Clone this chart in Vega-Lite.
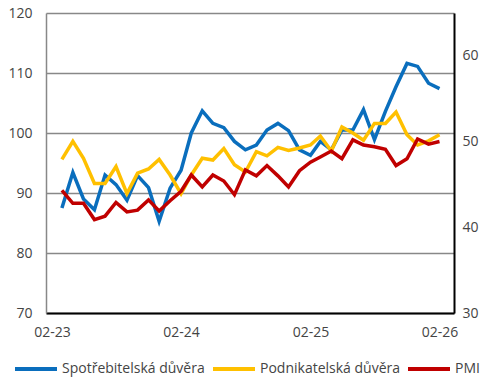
{
  "$schema": "https://vega.github.io/schema/vega-lite/v6.json",
  "width": 408,
  "height": 300,
  "autosize": {"type": "none"},
  "padding": {"left": 46, "top": 13, "right": 43, "bottom": 74},
  "background": "white",
  "config": {
    "view": {"stroke": null},
    "font": "Open Sans",
    "axis": {"labelFont": "Open Sans", "labelFontSize": 14, "labelColor": "#444444", "ticks": false, "title": null},
    "legend": {"labelFont": "Open Sans"}
  },
  "data": {"values": [
    {"date": "2023-03-01", "series": "Spotřebitelská důvěra", "value": 87.5},
    {"date": "2023-04-01", "series": "Spotřebitelská důvěra", "value": 93.4},
    {"date": "2023-05-01", "series": "Spotřebitelská důvěra", "value": 89.0},
    {"date": "2023-06-01", "series": "Spotřebitelská důvěra", "value": 87.2},
    {"date": "2023-07-01", "series": "Spotřebitelská důvěra", "value": 93.0},
    {"date": "2023-08-01", "series": "Spotřebitelská důvěra", "value": 91.4},
    {"date": "2023-09-01", "series": "Spotřebitelská důvěra", "value": 88.8},
    {"date": "2023-10-01", "series": "Spotřebitelská důvěra", "value": 92.9},
    {"date": "2023-11-01", "series": "Spotřebitelská důvěra", "value": 90.9},
    {"date": "2023-12-01", "series": "Spotřebitelská důvěra", "value": 85.3},
    {"date": "2024-01-01", "series": "Spotřebitelská důvěra", "value": 90.8},
    {"date": "2024-02-01", "series": "Spotřebitelská důvěra", "value": 93.8},
    {"date": "2024-03-01", "series": "Spotřebitelská důvěra", "value": 100.0},
    {"date": "2024-04-01", "series": "Spotřebitelská důvěra", "value": 103.7},
    {"date": "2024-05-01", "series": "Spotřebitelská důvěra", "value": 101.6},
    {"date": "2024-06-01", "series": "Spotřebitelská důvěra", "value": 100.9},
    {"date": "2024-07-01", "series": "Spotřebitelská důvěra", "value": 98.6},
    {"date": "2024-08-01", "series": "Spotřebitelská důvěra", "value": 97.2},
    {"date": "2024-09-01", "series": "Spotřebitelská důvěra", "value": 98.0},
    {"date": "2024-10-01", "series": "Spotřebitelská důvěra", "value": 100.5},
    {"date": "2024-11-01", "series": "Spotřebitelská důvěra", "value": 101.6},
    {"date": "2024-12-01", "series": "Spotřebitelská důvěra", "value": 100.4},
    {"date": "2025-01-01", "series": "Spotřebitelská důvěra", "value": 97.2},
    {"date": "2025-02-01", "series": "Spotřebitelská důvěra", "value": 96.3},
    {"date": "2025-03-01", "series": "Spotřebitelská důvěra", "value": 98.6},
    {"date": "2025-04-01", "series": "Spotřebitelská důvěra", "value": 97.2},
    {"date": "2025-05-01", "series": "Spotřebitelská důvěra", "value": 100.5},
    {"date": "2025-06-01", "series": "Spotřebitelská důvěra", "value": 100.5},
    {"date": "2025-07-01", "series": "Spotřebitelská důvěra", "value": 103.9},
    {"date": "2025-08-01", "series": "Spotřebitelská důvěra", "value": 98.9},
    {"date": "2025-09-01", "series": "Spotřebitelská důvěra", "value": 103.6},
    {"date": "2025-10-01", "series": "Spotřebitelská důvěra", "value": 107.7},
    {"date": "2025-11-01", "series": "Spotřebitelská důvěra", "value": 111.6},
    {"date": "2025-12-01", "series": "Spotřebitelská důvěra", "value": 111.1},
    {"date": "2026-01-01", "series": "Spotřebitelská důvěra", "value": 108.3},
    {"date": "2026-02-01", "series": "Spotřebitelská důvěra", "value": 107.4},
    {"date": "2023-03-01", "series": "Podnikatelská důvěra", "value": 95.6},
    {"date": "2023-04-01", "series": "Podnikatelská důvěra", "value": 98.6},
    {"date": "2023-05-01", "series": "Podnikatelská důvěra", "value": 95.8},
    {"date": "2023-06-01", "series": "Podnikatelská důvěra", "value": 91.6},
    {"date": "2023-07-01", "series": "Podnikatelská důvěra", "value": 91.6},
    {"date": "2023-08-01", "series": "Podnikatelská důvěra", "value": 94.4},
    {"date": "2023-09-01", "series": "Podnikatelská důvěra", "value": 89.9},
    {"date": "2023-10-01", "series": "Podnikatelská důvěra", "value": 93.3},
    {"date": "2023-11-01", "series": "Podnikatelská důvěra", "value": 94.0},
    {"date": "2023-12-01", "series": "Podnikatelská důvěra", "value": 95.6},
    {"date": "2024-01-01", "series": "Podnikatelská důvěra", "value": 93.0},
    {"date": "2024-02-01", "series": "Podnikatelská důvěra", "value": 89.9},
    {"date": "2024-03-01", "series": "Podnikatelská důvěra", "value": 93.0},
    {"date": "2024-04-01", "series": "Podnikatelská důvěra", "value": 95.8},
    {"date": "2024-05-01", "series": "Podnikatelská důvěra", "value": 95.5},
    {"date": "2024-06-01", "series": "Podnikatelská důvěra", "value": 97.4},
    {"date": "2024-07-01", "series": "Podnikatelská důvěra", "value": 94.7},
    {"date": "2024-08-01", "series": "Podnikatelská důvěra", "value": 93.5},
    {"date": "2024-09-01", "series": "Podnikatelská důvěra", "value": 96.9},
    {"date": "2024-10-01", "series": "Podnikatelská důvěra", "value": 96.2},
    {"date": "2024-11-01", "series": "Podnikatelská důvěra", "value": 97.6},
    {"date": "2024-12-01", "series": "Podnikatelská důvěra", "value": 97.1},
    {"date": "2025-01-01", "series": "Podnikatelská důvěra", "value": 97.5},
    {"date": "2025-02-01", "series": "Podnikatelská důvěra", "value": 98.0},
    {"date": "2025-03-01", "series": "Podnikatelská důvěra", "value": 99.5},
    {"date": "2025-04-01", "series": "Podnikatelská důvěra", "value": 97.0},
    {"date": "2025-05-01", "series": "Podnikatelská důvěra", "value": 101.0},
    {"date": "2025-06-01", "series": "Podnikatelská důvěra", "value": 100.0},
    {"date": "2025-07-01", "series": "Podnikatelská důvěra", "value": 98.8},
    {"date": "2025-08-01", "series": "Podnikatelská důvěra", "value": 101.6},
    {"date": "2025-09-01", "series": "Podnikatelská důvěra", "value": 101.6},
    {"date": "2025-10-01", "series": "Podnikatelská důvěra", "value": 103.5},
    {"date": "2025-11-01", "series": "Podnikatelská důvěra", "value": 99.7},
    {"date": "2025-12-01", "series": "Podnikatelská důvěra", "value": 98.0},
    {"date": "2026-01-01", "series": "Podnikatelská důvěra", "value": 98.7},
    {"date": "2026-02-01", "series": "Podnikatelská důvěra", "value": 99.7},
    {"date": "2023-03-01", "series": "PMI", "value": 44.3},
    {"date": "2023-04-01", "series": "PMI", "value": 42.8},
    {"date": "2023-05-01", "series": "PMI", "value": 42.8},
    {"date": "2023-06-01", "series": "PMI", "value": 40.9},
    {"date": "2023-07-01", "series": "PMI", "value": 41.3},
    {"date": "2023-08-01", "series": "PMI", "value": 42.9},
    {"date": "2023-09-01", "series": "PMI", "value": 41.8},
    {"date": "2023-10-01", "series": "PMI", "value": 42.0},
    {"date": "2023-11-01", "series": "PMI", "value": 43.2},
    {"date": "2023-12-01", "series": "PMI", "value": 41.9},
    {"date": "2024-01-01", "series": "PMI", "value": 43.1},
    {"date": "2024-02-01", "series": "PMI", "value": 44.2},
    {"date": "2024-03-01", "series": "PMI", "value": 46.1},
    {"date": "2024-04-01", "series": "PMI", "value": 44.7},
    {"date": "2024-05-01", "series": "PMI", "value": 46.1},
    {"date": "2024-06-01", "series": "PMI", "value": 45.4},
    {"date": "2024-07-01", "series": "PMI", "value": 43.8},
    {"date": "2024-08-01", "series": "PMI", "value": 46.7},
    {"date": "2024-09-01", "series": "PMI", "value": 46.0},
    {"date": "2024-10-01", "series": "PMI", "value": 47.2},
    {"date": "2024-11-01", "series": "PMI", "value": 46.0},
    {"date": "2024-12-01", "series": "PMI", "value": 44.7},
    {"date": "2025-01-01", "series": "PMI", "value": 46.6},
    {"date": "2025-02-01", "series": "PMI", "value": 47.6},
    {"date": "2025-03-01", "series": "PMI", "value": 48.2},
    {"date": "2025-04-01", "series": "PMI", "value": 48.9},
    {"date": "2025-05-01", "series": "PMI", "value": 48.0},
    {"date": "2025-06-01", "series": "PMI", "value": 50.2},
    {"date": "2025-07-01", "series": "PMI", "value": 49.6},
    {"date": "2025-08-01", "series": "PMI", "value": 49.4},
    {"date": "2025-09-01", "series": "PMI", "value": 49.1},
    {"date": "2025-10-01", "series": "PMI", "value": 47.2},
    {"date": "2025-11-01", "series": "PMI", "value": 48.0},
    {"date": "2025-12-01", "series": "PMI", "value": 50.3},
    {"date": "2026-01-01", "series": "PMI", "value": 49.7},
    {"date": "2026-02-01", "series": "PMI", "value": 50.0}
  ]},
  "encoding": {
    "x": {
      "field": "date", "type": "temporal",
      "scale": {"type": "utc", "domain": [{"year": 2023, "month": 1, "date": 15, "utc": true}, {"year": 2026, "month": 3, "date": 14, "utc": true}]},
      "axis": {
        "format": "%m-%y",
        "values": [{"year": 2023, "month": 2, "date": 1, "utc": true}, {"year": 2024, "month": 2, "date": 1, "utc": true}, {"year": 2025, "month": 2, "date": 1, "utc": true}, {"year": 2026, "month": 2, "date": 1, "utc": true}],
        "grid": false, "domainColor": "#000000", "domainWidth": 2, "labelPadding": 12, "labelFlush": false
      }
    },
    "color": {
      "field": "series", "type": "nominal",
      "scale": {"domain": ["Spotřebitelská důvěra", "Podnikatelská důvěra", "PMI"], "range": ["#0A6EBD", "#FFC000", "#C00000"]},
      "legend": {
        "orient": "none", "legendX": -33, "legendY": 333, "direction": "horizontal", "title": null,
        "symbolType": "stroke", "symbolSize": 1764, "symbolStrokeWidth": 4,
        "labelFontSize": 14, "labelColor": "#444444", "labelOffset": 3, "columnPadding": 0
      }
    }
  },
  "layer": [
    {
      "transform": [{"filter": "datum.series !== 'PMI'"}],
      "mark": {"type": "line", "strokeWidth": 3.5},
      "encoding": {
        "y": {
          "field": "value", "type": "quantitative",
          "scale": {"domain": [70, 120], "nice": false, "zero": false},
          "axis": {"values": [70, 80, 90, 100, 110, 120], "grid": true, "gridColor": "#888888", "gridWidth": 1.5, "domainColor": "#888888", "domainWidth": 1.5, "labelPadding": 14}
        }
      }
    },
    {
      "transform": [{"filter": "datum.series === 'PMI'"}],
      "mark": {"type": "line", "strokeWidth": 3.5},
      "encoding": {
        "y": {
          "field": "value", "type": "quantitative",
          "scale": {"domain": [30, 65], "nice": false, "zero": false},
          "axis": {"orient": "right", "values": [30, 40, 50, 60], "grid": false, "domainColor": "#000000", "domainWidth": 2, "labelPadding": 8}
        }
      }
    }
  ],
  "resolve": {"scale": {"y": "independent"}, "axis": {"y": "independent"}}
}
